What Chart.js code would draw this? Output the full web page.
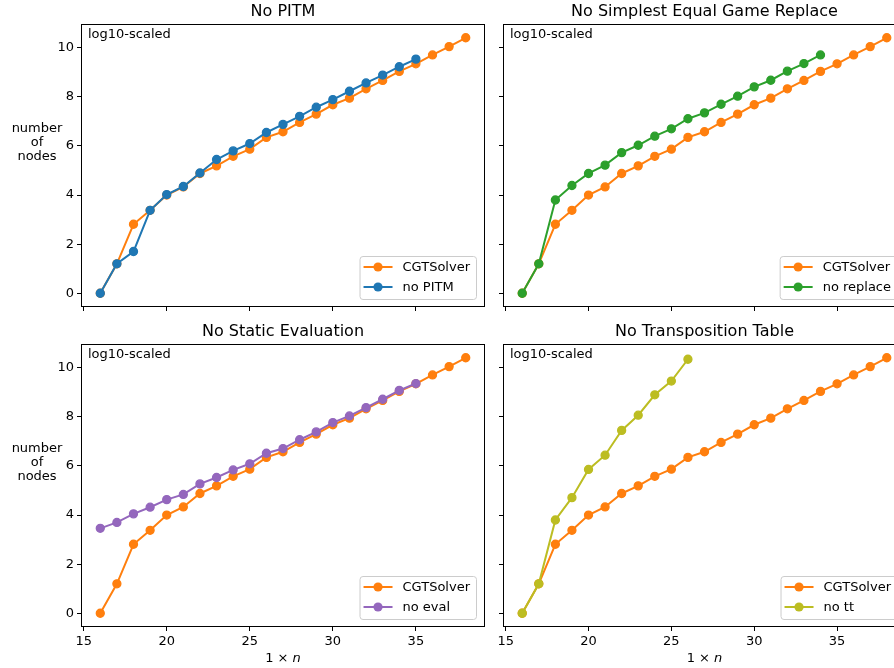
<!DOCTYPE html>
<html>
<head>
<meta charset="utf-8">
<script src="https://cdn.jsdelivr.net/npm/chart.js@4.4.0/dist/chart.umd.min.js"></script>
<style>
  html, body { margin: 0; padding: 0; background: #fff; overflow: hidden; width: 894px; height: 668px; }
  canvas { position: absolute; }
</style>
</head>
<body>
<canvas id="tl" width="494" height="320" style="left:0;top:0"></canvas>
<canvas id="tr" width="473" height="320" style="left:447px;top:0"></canvas>
<canvas id="bl" width="494" height="348" style="left:0;top:320px"></canvas>
<canvas id="br" width="473" height="348" style="left:447px;top:320px"></canvas>
<script>
// sizes (1 x n) and log10 node counts
var sizes = [16, 17, 18, 19, 20, 21, 22, 23, 24, 25, 26, 27, 28, 29, 30, 31, 32, 33, 34, 35, 36, 37, 38];
var cgtSolver = [0, 1.2, 2.81, 3.38, 4.0, 4.33, 4.88, 5.19, 5.58, 5.87, 6.35, 6.58, 6.96, 7.30, 7.68, 7.95, 8.33, 8.67, 9.04, 9.35, 9.71, 10.05, 10.41];
var noPitm = [0, 1.2, 1.70, 3.38, 4.02, 4.35, 4.9, 5.45, 5.80, 6.10, 6.55, 6.88, 7.21, 7.58, 7.89, 8.23, 8.57, 8.89, 9.23, 9.54];
var noReplace = [0, 1.2, 3.80, 4.39, 4.88, 5.22, 5.73, 6.03, 6.40, 6.70, 7.11, 7.35, 7.70, 8.03, 8.41, 8.68, 9.05, 9.36, 9.71];
var noEval = [3.46, 3.70, 4.05, 4.32, 4.63, 4.84, 5.27, 5.53, 5.84, 6.09, 6.52, 6.71, 7.07, 7.39, 7.77, 8.04, 8.38, 8.72, 9.08, 9.36];
var noTt = [0, 1.2, 3.80, 4.71, 5.86, 6.44, 7.45, 8.07, 8.90, 9.46, 10.35];
var xTicks = [15, 20, 25, 30, 35];
var yTicks = [0, 2, 4, 6, 8, 10];

var FONT = "'DejaVu Sans', sans-serif";

function puntos(vals) {
  var out = [];
  for (var i = 0; i < vals.length; i++) out.push({ x: sizes[i], y: vals[i] });
  return out;
}

function serie(label, vals, color, order) {
  return {
    label: label,
    data: puntos(vals),
    borderColor: color,
    backgroundColor: color,
    borderWidth: 2,
    pointRadius: 4,
    pointBorderWidth: 1.3,
    pointHoverRadius: 4,
    order: order,
    tension: 0
  };
}

// dibuja titulo, marco, textos y leyenda como matplotlib
const panelPlugin = {
  id: "panel",
  afterDatasetsDraw(chart, args, o) {
    const ctx = chart.ctx;
    const a = chart.chartArea;
    ctx.save();
    ctx.strokeStyle = "#000";
    ctx.lineWidth = 1;
    ctx.strokeRect(Math.round(a.left) - 0.5, Math.round(a.top) - 0.5, Math.round(a.right - a.left) + 1, Math.round(a.bottom - a.top) + 1);

    // titulo
    ctx.fillStyle = "#000";
    ctx.font = "16px " + FONT;
    ctx.textAlign = "center";
    ctx.textBaseline = "middle";
    ctx.fillText(o.title, (a.left + a.right) / 2, 12);

    // log10-scaled
    ctx.font = "13px " + FONT;
    ctx.textAlign = "left";
    ctx.textBaseline = "top";
    ctx.fillText("log10-scaled", a.left + 6, a.top + 3);

    // etiqueta y
    if (o.ylabel) {
      ctx.textAlign = "center";
      ctx.textBaseline = "middle";
      ctx.fillText("number", 37, a.top + 104);
      ctx.fillText("of", 37, a.top + 118);
      ctx.fillText("nodes", 37, a.top + 132);
    }

    // etiqueta x con n en cursiva
    if (o.xlabel) {
      ctx.textBaseline = "middle";
      ctx.textAlign = "left";
      var p1 = "1 \u00d7 ";
      ctx.font = "13px " + FONT;
      var w1 = ctx.measureText(p1).width;
      ctx.font = "italic 13px " + FONT;
      var w2 = ctx.measureText("n").width;
      var x0 = (a.left + a.right) / 2 - (w1 + w2) / 2;
      ctx.font = "13px " + FONT;
      ctx.fillText(p1, x0, 339);
      ctx.font = "italic 13px " + FONT;
      ctx.fillText("n", x0 + w1, 339);
    }

    // leyenda
    ctx.font = "13px " + FONT;
    var tw = 0;
    chart.data.datasets.forEach(function (d) {
      tw = Math.max(tw, ctx.measureText(d.label).width);
    });
    var w = 43 + tw + 6;
    var h = 43;
    var lx = a.right - 8 - w;
    var ly = a.bottom - 7 - h;
    ctx.beginPath();
    ctx.roundRect(lx + 0.5, ly + 0.5, w, h, 3);
    ctx.fillStyle = "rgba(255,255,255,0.8)";
    ctx.fill();
    ctx.strokeStyle = "#cccccc";
    ctx.stroke();
    chart.data.datasets.forEach(function (d, i) {
      var y = ly + 11 + i * 20;
      ctx.strokeStyle = d.borderColor;
      ctx.lineWidth = 2;
      ctx.beginPath();
      ctx.moveTo(lx + 4, y);
      ctx.lineTo(lx + 33, y);
      ctx.stroke();
      ctx.fillStyle = d.borderColor;
      ctx.beginPath();
      ctx.arc(lx + 18.5, y, 4.6, 0, Math.PI * 2);
      ctx.fill();
      ctx.fillStyle = "#000";
      ctx.textAlign = "left";
      ctx.textBaseline = "middle";
      ctx.fillText(d.label, lx + 43, y + 1);
    });
    ctx.restore();
  }
};

function crearPanel(id, titulo, otro, izquierda, abajo) {
  var canvas = document.getElementById(id);
  var alto = canvas.height;
  var pad = izquierda
    ? { left: 42, right: 10, top: 25, bottom: abajo ? 2 : 0 }
    : { left: 17, right: 15, top: 25, bottom: abajo ? 2 : 0 };
  new Chart(canvas, {
    type: "line",
    data: {
      datasets: [
        serie("CGTSolver", cgtSolver, "#ff7f0e", 2),
        serie(otro.label, otro.vals, otro.color, 1)
      ]
    },
    options: {
      responsive: false,
      animation: false,
      devicePixelRatio: 1,
      layout: { padding: pad },
      plugins: {
        legend: { display: false },
        tooltip: { enabled: false },
        panel: { title: titulo, ylabel: izquierda, xlabel: abajo }
      },
      scales: {
        x: {
          type: "linear",
          min: 14.9,
          max: 39.1,
          afterBuildTicks: function (s) { s.ticks = xTicks.map(function (v) { return { value: v }; }); },
          afterFit: function (s) { s.height = abajo ? 40 : 14; },
          grid: { drawOnChartArea: false, drawTicks: true, tickLength: 5, color: "#000" },
          border: { display: false },
          ticks: { display: abajo, color: "#000", padding: 3, font: { family: FONT, size: 13 }, maxRotation: 0 }
        },
        y: {
          type: "linear",
          min: -0.5205,
          max: 10.9305,
          afterBuildTicks: function (s) { s.ticks = yTicks.map(function (v) { return { value: v }; }); },
          afterFit: function (s) { s.width = 40; },
          grid: { drawOnChartArea: false, drawTicks: true, tickLength: 5, color: "#000" },
          border: { display: false },
          ticks: { display: izquierda, color: "#000", padding: 3, font: { family: FONT, size: 13 } }
        }
      }
    },
    plugins: [panelPlugin]
  });
}

crearPanel("tl", "No PITM", { label: "no PITM", vals: noPitm, color: "#1f77b4" }, true, false);
crearPanel("tr", "No Simplest Equal Game Replace", { label: "no replace", vals: noReplace, color: "#2ca02c" }, false, false);
crearPanel("bl", "No Static Evaluation", { label: "no eval", vals: noEval, color: "#9467bd" }, true, true);
crearPanel("br", "No Transposition Table", { label: "no tt", vals: noTt, color: "#bcbd22" }, false, true);
</script>
</body>
</html>
